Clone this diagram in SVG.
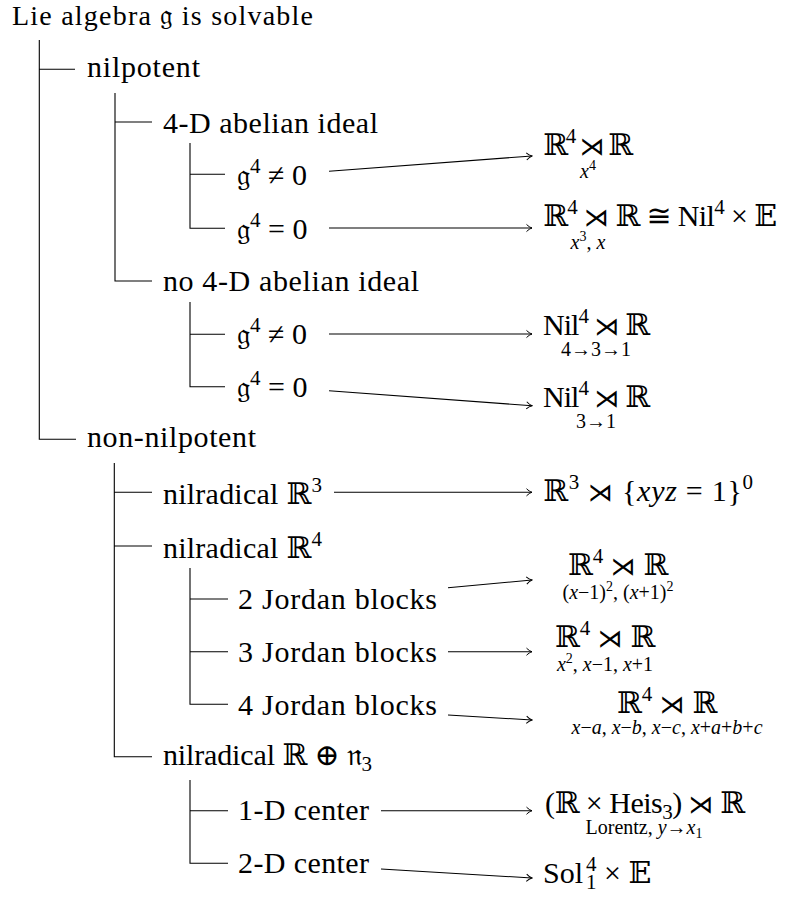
<svg xmlns="http://www.w3.org/2000/svg" width="795" height="902" viewBox="0 0 795 902">
<style>
text { font-family: "Liberation Serif", "DejaVu Serif", "DejaVu Sans", serif; font-size: 30px; fill: #000; }
.s { font-size: 20px; }
.ss { font-size: 14px; }
.sp { font-size: 21px; }
.i { font-style: italic; }
.op { font-family: "DejaVu Serif", "DejaVu Sans", sans-serif; font-size: 25px; }
.ln { stroke: #000; stroke-width: 1.1; fill: none; }
.ar { stroke: #000; stroke-width: 1.1; fill: none; marker-end: url(#to); }
</style>
<defs>
<marker id="to" viewBox="-7 -5 8 10" refX="0" refY="0" markerWidth="8" markerHeight="10" markerUnits="userSpaceOnUse" orient="auto">
<path d="M-5.5,-3.6 C-3.5,-1.6 -1.5,-0.5 0,0 C-1.5,0.5 -3.5,1.6 -5.5,3.6" stroke="#000" stroke-width="1" fill="none"/>
</marker>
</defs>

<g id="tree">
<path class="ln" d="M39.3,40 V439.3 H76 M39.3,69.3 H75"/>
<path class="ln" d="M115,93 V281 H152 M115,122 H152"/>
<path class="ln" d="M190,143 V228.3 H225 M190,174.3 H225"/>
<path class="ln" d="M190,302 V386.7 H225 M190,334.3 H225"/>
<path class="ln" d="M114.3,463 V756.7 H152 M114.3,492.3 H152 M114.3,546 H152"/>
<path class="ln" d="M190,568 V704.3 H228 M190,599 H228 M190,651.7 H228"/>
<path class="ln" d="M190,780 V863.3 H228 M190,810.7 H228"/>
</g>

<g id="connectors">
<path class="ar" d="M329,171.3 L532,156"/>
<path class="ar" d="M329,228 L532,228"/>
<path class="ar" d="M329,334 L532,334"/>
<path class="ar" d="M329,390.7 L532,405.7"/>
<path class="ar" d="M334,492.3 L532,492.3"/>
<path class="ar" d="M448,587.7 L532,580"/>
<path class="ar" d="M448,651.7 L532,651.7"/>
<path class="ar" d="M448,715 L532,720"/>
<path class="ar" d="M381,810.7 L532,810.7"/>
<path class="ar" d="M381,869 L532,878"/>
</g>

<g id="n-root"><text x="12" y="25" textLength="301" style="font-size:28px">Lie algebra 𝔤 is solvable</text></g>
<g id="n-nilpotent"><text x="87" y="77" textLength="113">nilpotent</text></g>
<g id="n-4d"><text x="163" y="133" textLength="215">4-D abelian ideal</text></g>
<g id="n-4d-ne"><text x="237" y="185">𝔤<tspan class="sp" dy="-12">4</tspan><tspan dy="12"> ≠ 0</tspan></text></g>
<g id="n-4d-eq"><text x="237" y="239">𝔤<tspan class="sp" dy="-12">4</tspan><tspan dy="12"> = 0</tspan></text></g>
<g id="n-no4d"><text x="163" y="291" textLength="256">no 4-D abelian ideal</text></g>
<g id="n-no4d-ne"><text x="237" y="344">𝔤<tspan class="sp" dy="-12">4</tspan><tspan dy="12"> ≠ 0</tspan></text></g>
<g id="n-no4d-eq"><text x="237" y="397">𝔤<tspan class="sp" dy="-12">4</tspan><tspan dy="12"> = 0</tspan></text></g>
<g id="n-nonnil"><text x="87" y="447" textLength="169">non-nilpotent</text></g>
<g id="n-nr3"><text x="163" y="504" textLength="159">nilradical ℝ<tspan class="sp" dy="-12">3</tspan></text></g>
<g id="n-nr4"><text x="163" y="558" textLength="159">nilradical ℝ<tspan class="sp" dy="-12">4</tspan></text></g>
<g id="n-j2"><text x="238" y="609" textLength="199">2 Jordan blocks</text></g>
<g id="n-j3"><text x="238" y="662" textLength="199">3 Jordan blocks</text></g>
<g id="n-j4"><text x="238" y="715" textLength="199">4 Jordan blocks</text></g>
<g id="n-nrn3"><text x="163" y="765" textLength="209">nilradical ℝ ⊕ 𝔫<tspan class="sp" dy="6">3</tspan></text></g>
<g id="n-c1"><text x="238" y="820" textLength="131">1-D center</text></g>
<g id="n-c2"><text x="238" y="873" textLength="131">2-D center</text></g>

<g id="r1">
<text x="543" y="155" textLength="90">ℝ<tspan class="sp" dy="-12">4</tspan><tspan dy="12"> </tspan><tspan class="op">⋊</tspan> ℝ</text>
<text class="s" x="588" y="178" text-anchor="middle"><tspan class="i">x</tspan><tspan class="ss" dy="-8">4</tspan></text>
</g>
<g id="r2">
<text x="543" y="226" textLength="234">ℝ<tspan class="sp" dy="-12">4</tspan><tspan dy="12"> </tspan><tspan class="op">⋊</tspan> ℝ ≅ Nil<tspan class="sp" dy="-12">4</tspan><tspan dy="12"> × 𝔼</tspan></text>
<text class="s" x="588" y="249" text-anchor="middle"><tspan class="i">x</tspan><tspan class="ss" dy="-8">3</tspan><tspan dy="8">, </tspan><tspan class="i">x</tspan></text>
</g>
<g id="r3">
<text x="543" y="335" textLength="107">Nil<tspan class="sp" dy="-12">4</tspan><tspan dy="12"> </tspan><tspan class="op">⋊</tspan> ℝ</text>
<text class="s" x="596" y="356" text-anchor="middle">4→3→1</text>
</g>
<g id="r4">
<text x="543" y="407" textLength="107">Nil<tspan class="sp" dy="-12">4</tspan><tspan dy="12"> </tspan><tspan class="op">⋊</tspan> ℝ</text>
<text class="s" x="596" y="428" text-anchor="middle">3→1</text>
</g>
<g id="r5">
<text x="543" y="501" textLength="210">ℝ<tspan class="sp" dy="-12">3</tspan><tspan dy="12"> </tspan><tspan class="op">⋊</tspan> {<tspan class="i">xyz</tspan> = 1}<tspan class="sp" dy="-12">0</tspan></text>
</g>
<g id="r6">
<text x="618" y="575" text-anchor="middle">ℝ<tspan class="sp" dy="-12">4</tspan><tspan dy="12"> </tspan><tspan class="op">⋊</tspan> ℝ</text>
<text class="s" x="618" y="599" text-anchor="middle">(<tspan class="i">x</tspan>−1)<tspan class="ss" dy="-8">2</tspan><tspan dy="8">, (</tspan><tspan class="i">x</tspan>+1)<tspan class="ss" dy="-8">2</tspan></text>
</g>
<g id="r7">
<text x="605" y="647" text-anchor="middle">ℝ<tspan class="sp" dy="-12">4</tspan><tspan dy="12"> </tspan><tspan class="op">⋊</tspan> ℝ</text>
<text class="s" x="605" y="671" text-anchor="middle"><tspan class="i">x</tspan><tspan class="ss" dy="-8">2</tspan><tspan dy="8">, </tspan><tspan class="i">x</tspan>−1, <tspan class="i">x</tspan>+1</text>
</g>
<g id="r8">
<text x="667" y="713" text-anchor="middle">ℝ<tspan class="sp" dy="-12">4</tspan><tspan dy="12"> </tspan><tspan class="op">⋊</tspan> ℝ</text>
<text class="s" x="667" y="734" text-anchor="middle"><tspan class="i">x</tspan>−<tspan class="i">a</tspan>, <tspan class="i">x</tspan>−<tspan class="i">b</tspan>, <tspan class="i">x</tspan>−<tspan class="i">c</tspan>, <tspan class="i">x</tspan>+<tspan class="i">a</tspan>+<tspan class="i">b</tspan>+<tspan class="i">c</tspan></text>
</g>
<g id="r9">
<text x="545" y="813" textLength="200">(ℝ × Heis<tspan class="sp" dy="6">3</tspan><tspan dy="-6">) </tspan><tspan class="op">⋊</tspan> ℝ</text>
<text class="s" x="644" y="834" text-anchor="middle">Lorentz, <tspan class="i">y</tspan>→<tspan class="i">x</tspan><tspan class="ss" dy="4">1</tspan></text>
</g>
<g id="r10">
<text x="543" y="883">Sol</text>
<text class="sp" x="586" y="871">4</text>
<text class="sp" x="586" y="889">1</text>
<text x="604" y="883">× 𝔼</text>
</g>
</svg>
